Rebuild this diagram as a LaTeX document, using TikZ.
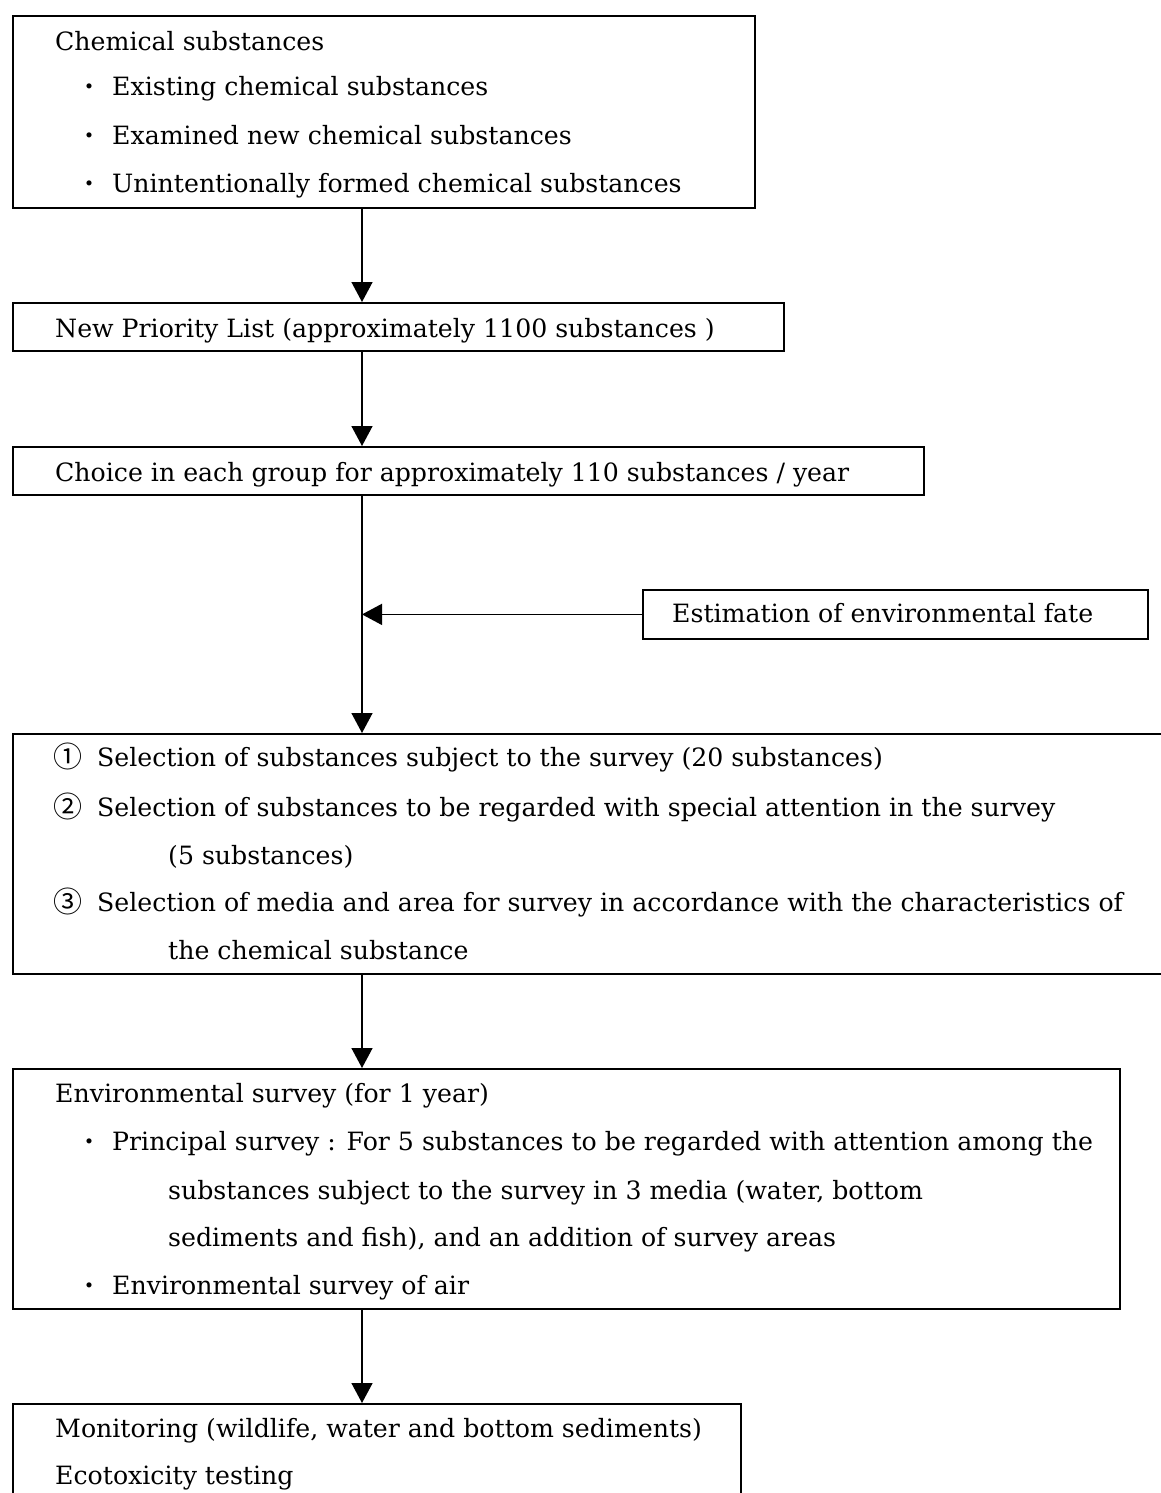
\documentclass[tikz,border=0pt]{standalone}
\usepackage{fontspec}
\setmainfont{DejaVu Serif}
\newfontfamily\cjkfont{Noto Sans CJK JP}
\usetikzlibrary{arrows.meta}
\begin{document}
\begin{tikzpicture}[x=1pt,y=-1pt,
  box/.style={draw, line width=1.8pt, inner sep=0pt, anchor=north west},
  txt/.style={anchor=base west, inner sep=0pt, font=\fontsize{25.2}{30}\selectfont},
  bul/.style={anchor=base west, inner sep=0pt, font=\cjkfont\fontsize{24}{28}\selectfont},
  num/.style={anchor=base west, inner sep=0pt, font=\cjkfont\fontsize{29}{32}\selectfont},
  arr/.style={line width=1.5pt, -{Triangle[length=20pt,width=21pt]}}]
\clip (0,0) rectangle (1161,1493);
\fill[white] (0,0) rectangle (1161,1493);
% boxes
\node[box, minimum width=742pt, minimum height=192pt] (b1) at (12,15) {};
\node[box, minimum width=771pt, minimum height=48pt] (b2) at (12,302) {};
\node[box, minimum width=911pt, minimum height=48pt] (b3) at (12,446) {};
\node[box, minimum width=505pt, minimum height=49pt] (est) at (642,589) {};
\node[box, minimum width=1170pt, minimum height=240pt] (b4) at (12,733) {};
\node[box, minimum width=1107pt, minimum height=240pt] (b5) at (12,1068) {};
\node[box, minimum width=728pt, minimum height=120pt] (b6) at (12,1403) {};
% texts box 1
\node[txt] (t11) at (55,51) {Chemical substances};
\node[bul] (u12) at (77,96) {・};
\node[txt] (t12) at (112,96) {Existing chemical substances};
\node[bul] (u13) at (77,144) {・};
\node[txt] (t13) at (112,144) {Examined new chemical substances};
\node[bul] (u14) at (77,192) {・};
\node[txt] (t14) at (112,192) {Unintentionally formed chemical substances};
% box 2, 3, est
\node[txt] (t2) at (55,337) {New Priority List (approximately 1100 substances )};
\node[txt] (t3) at (55,481) {Choice in each group for approximately 110 substances / year};
\node[txt] (te) at (672,622) {Estimation of environmental fate};
% box 4
\node[num] (n1) at (53,767) {①};
\node[txt] (t41) at (97,766) {Selection of substances subject to the survey (20 substances)};
\node[num] (n2) at (53,817) {②};
\node[txt] (t42) at (97,816) {Selection of substances to be regarded with special attention in the survey};
\node[txt] (t43) at (168,864) {(5 substances)};
\node[num] (n3) at (53,912) {③};
\node[txt] (t44) at (97,911) {Selection of media and area for survey in accordance with the characteristics of};
\node[txt] (t45) at (168,959) {the chemical substance};
% box 5
\node[txt] (t51) at (55,1102) {Environmental survey (for 1 year)};
\node[bul] (u52) at (77,1150) {・};
\node[txt] (t52) at (112,1150) {Principal survey : For 5 substances to be regarded with attention among the};
\node[txt] (t53) at (168,1199) {substances subject to the survey in 3 media (water, bottom};
\node[txt] (t54) at (168,1246) {sediments and fish), and an addition of survey areas};
\node[bul] (u55) at (77,1294) {・};
\node[txt] (t55) at (112,1294) {Environmental survey of air};
% box 6
\node[txt] (t61) at (55,1437) {Monitoring (wildlife, water and bottom sediments)};
\node[txt] (t62) at (55,1484) {Ecotoxicity testing};
% connectors
\coordinate (ax) at (362,0);
\draw[arr] (b1.south -| ax) -- (b2.north -| ax);
\draw[arr] (b2.south -| ax) -- (b3.north -| ax);
\draw[arr] (b3.south -| ax) -- (b4.north -| ax);
\draw[arr] (est.west) -- (est.west -| ax);
\draw[arr] (b4.south -| ax) -- (b5.north -| ax);
\draw[arr] (b5.south -| ax) -- (b6.north -| ax);
\end{tikzpicture}
\end{document}
